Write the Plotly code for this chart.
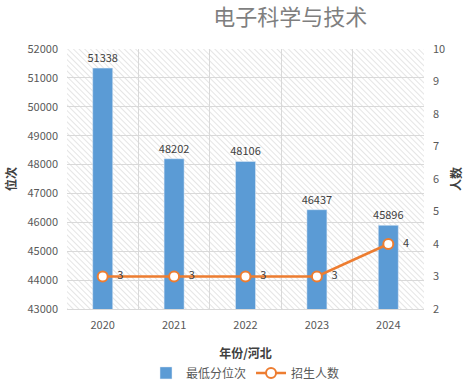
import base64
import plotly.graph_objects as go

years = ["2020", "2021", "2022", "2023", "2024"]
min_rank = [51338, 48202, 48106, 46437, 45896]
enroll = [3, 3, 3, 3, 4]

title_text = "电子科学与技术"
font_family = "Noto Sans CJK SC, Microsoft YaHei, sans-serif"

svg = ("<svg xmlns='http://www.w3.org/2000/svg' width='357' height='260'>"
       "<defs><pattern id='p' width='4' height='4' patternUnits='userSpaceOnUse' "
       "patternTransform='rotate(-45)'><line x1='0' y1='0' x2='0' y2='4' "
       "stroke='#cccccc' stroke-width='1'/></pattern></defs>"
       "<rect width='100%' height='100%' fill='url(#p)'/></svg>")
svg_uri = "data:image/svg+xml;base64," + base64.b64encode(svg.encode()).decode()

fig = go.Figure()
fig.add_trace(go.Bar(
    x=years, y=min_rank, name="最低分位次",
    marker=dict(color="#5B9BD5"), width=0.28,
    text=[str(v) for v in min_rank], textposition="outside",
    constraintext="none",
    textfont=dict(size=11, color="#404040"), cliponaxis=False,
))
fig.add_trace(go.Scatter(
    x=years, y=enroll, name="招生人数", yaxis="y2",
    mode="lines+markers+text",
    line=dict(color="#ED7D31", width=2.5),
    marker=dict(symbol="circle", size=10, color="white",
                line=dict(color="#ED7D31", width=2)),
    text=[str(v) for v in enroll], texttemplate="   %{text}",
    textposition="middle right",
    textfont=dict(size=11, color="#404040"), cliponaxis=False,
))

fig.update_layout(
    width=472, height=387,
    margin=dict(l=67, r=48, t=49, b=78, autoexpand=False),
    paper_bgcolor="white", plot_bgcolor="rgba(0,0,0,0)",
    font=dict(family=font_family, size=11, color="#595959"),
    title=dict(text=title_text, x=0.615, xanchor="center", y=0.975, yanchor="top",
               font=dict(size=22, color="#7F7F7F", family=font_family)),
    xaxis=dict(type="category", tickson="boundaries", showgrid=True,
               gridcolor="#D9D9D9", gridwidth=1, showline=True, linecolor="#D9D9D9",
               ticks="", ticklabelstandoff=6, tickfont=dict(size=11, color="#595959"),
               title=dict(text="<b>年份/河北</b>", font=dict(size=12, color="#404040"),
                          standoff=18)),
    yaxis=dict(range=[43000, 52000], dtick=1000, tickformat="d", showgrid=True,
               gridcolor="#D9D9D9", gridwidth=1, zeroline=False,
               tickfont=dict(size=11, color="#595959"), ticks="", ticklabelstandoff=8,
               automargin=False,
               title=dict(text="<b>位次</b>", font=dict(size=12, color="#404040"),
                          standoff=8)),
    yaxis2=dict(range=[2, 10], dtick=1, overlaying="y", side="right",
                showgrid=False, zeroline=False, ticks="", ticklabelstandoff=8,
                automargin=False,
                tickfont=dict(size=11, color="#595959"),
                title=dict(text="<b>人数</b>", font=dict(size=12, color="#404040"),
                           standoff=8)),
    legend=dict(orientation="h", x=0.5, xanchor="center", y=-0.19, yanchor="top",
                font=dict(size=12, color="#595959"),
                traceorder="normal"),
    showlegend=True,
    images=[dict(source=svg_uri, xref="paper", yref="paper", x=0, y=1,
                 sizex=1, sizey=1, xanchor="left", yanchor="top",
                 sizing="stretch", layer="below")],
)

fig.write_html("out.html", config={"displayModeBar": False},
               post_script="document.body.style.margin='0';document.body.style.overflow='hidden';")
